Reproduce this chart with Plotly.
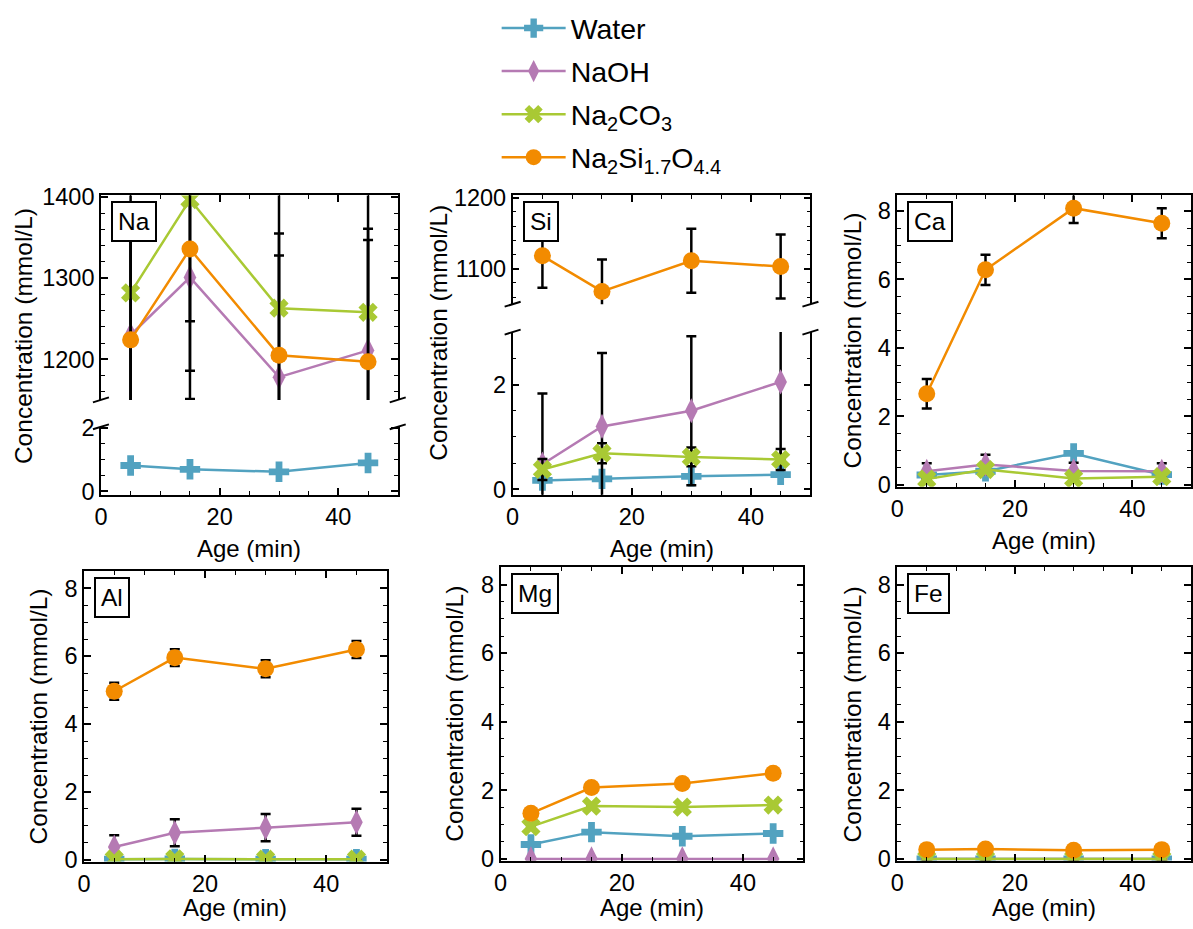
import plotly.graph_objects as go

W, H = 1193, 929
# measured mapping of page pixels to the captured picture: img = A + S * page
AX, SX = 6.0, 0.994
AY, SY = 8.0, 0.978

TIMES = [5, 15, 30, 45]
SERIES = ["Water", "NaOH", "Na<sub>2</sub>CO<sub>3</sub>", "Na<sub>2</sub>Si<sub>1.7</sub>O<sub>4.4</sub>"]
COLORS = ["#52a2c0", "#b57ab3", "#a9c934", "#f28b00"]
SYMBOLS = ["cross", "diamond-tall", "x", "circle"]

NA_VALUES = [[0.82, 0.70, 0.62, 0.90], [1230, 1301, 1178, 1211], [1282, 1397, 1263, 1258], [1224, 1336, 1205, 1197]]
NA_ERRORS = [[0.03, 0.03, 0.03, 0.03], [150, 150, 150, 150], [150, 150, 150, 150], [150, 150, 150, 150]]
SI_VALUES = [[0.17, 0.20, 0.25, 0.28], [0.48, 1.20, 1.50, 2.05], [0.38, 0.69, 0.62, 0.57], [1118, 1068, 1111, 1103]]
SI_ERRORS = [[0.03, 0.03, 0.03, 0.03], [1.35, 1.40, 1.42, 1.50], [0.20, 0.19, 0.18, 0.20], [45, 45, 45, 45]]
CA_VALUES = [[0.29, 0.40, 0.92, 0.30], [0.40, 0.60, 0.41, 0.40], [0.17, 0.45, 0.19, 0.24], [2.66, 6.28, 8.08, 7.64]]
CA_ERRORS = [[0.04, 0.04, 0.04, 0.04], [0.23, 0.28, 0.24, 0.23], [0.03, 0.03, 0.03, 0.03], [0.43, 0.44, 0.43, 0.44]]
AL_VALUES = [[0.02, 0.03, 0.02, 0.02], [0.38, 0.80, 0.95, 1.11], [0.02, 0.03, 0.02, 0.02], [4.97, 5.96, 5.63, 6.20]]
AL_ERRORS = [[0.01, 0.01, 0.01, 0.01], [0.35, 0.40, 0.40, 0.40], [0.01, 0.01, 0.01, 0.01], [0.25, 0.25, 0.25, 0.25]]
MG_VALUES = [[0.42, 0.78, 0.66, 0.74], [0.0, 0.0, 0.0, 0.0], [0.94, 1.54, 1.51, 1.57], [1.33, 2.08, 2.20, 2.50]]
MG_ERRORS = [[0.03, 0.03, 0.03, 0.03], [0.01, 0.01, 0.01, 0.01], [0.03, 0.03, 0.03, 0.03], [0.04, 0.04, 0.04, 0.04]]
FE_VALUES = [[0.0, 0.0, 0.0, 0.0], [0.0, 0.0, 0.0, 0.0], [0.0, 0.0, 0.0, 0.0], [0.27, 0.29, 0.25, 0.27]]
FE_ERRORS = [[0.01, 0.01, 0.01, 0.01], [0.01, 0.01, 0.01, 0.01], [0.01, 0.01, 0.01, 0.01], [0.02, 0.02, 0.02, 0.02]]

X_RANGE = [0, 50]

FONT = "Liberation Sans, Arial, sans-serif"
TICKFONT = dict(family=FONT, size=23.5, color="black")


def px_x(p):
    return min(max((p - AX) / SX / W, 0.0), 1.0)


def px_y(p):
    return 1 - (p - AY) / SY / H


panels = [
    ("Na", NA_VALUES, NA_ERRORS, (-78, -9), 547, [
        ("x", "y", (100, 397), (193, 398), [1150, 1402], 100, 20, "upper"),
        ("x2", "y2", (100, 397), (425, 493), [-0.1, 2.04], 2, 0.5, "lower"),
    ]),
    ("Si", SI_VALUES, SI_ERRORS, (-75, -12), 547, [
        ("x3", "y3", (512, 810), (193, 302), [1050, 1203], 100, 20, "upper"),
        ("x4", "y4", (512, 810), (330, 493), [-0.1, 3.0], 2, 0.5, "lower"),
    ]),
    ("Ca", CA_VALUES, CA_ERRORS, (-45, -1), 539, [
        ("x5", "y5", (897, 1191), (193, 485), [-0.05, 8.45], 2, 0.5, "full"),
    ]),
    ("Al", AL_VALUES, AL_ERRORS, (-45, 0), 907, [
        ("x6", "y6", (83, 386), (570, 861), [-0.05, 8.5], 2, 0.5, "full"),
    ]),
    ("Mg", MG_VALUES, MG_ERRORS, (-47, 0), 907, [
        ("x7", "y7", (500, 803), (566, 860), [-0.05, 8.5], 2, 0.5, "full"),
    ]),
    ("Fe", FE_VALUES, FE_ERRORS, (-45, 0), 907, [
        ("x8", "y8", (897, 1191), (566, 860), [-0.05, 8.5], 2, 0.5, "full"),
    ]),
]

fig = go.Figure()
layout = {}
annotations = []
shapes = []
first_legend = True

for name, vals, errs, yt_off, xt_y, axes in panels:
    for (xid, yid, xd, yd, yr, dt, mn, part) in axes:
        for i in range(4):
            fig.add_trace(go.Scatter(
                x=TIMES, y=vals[i], xaxis=xid, yaxis=yid,
                name=SERIES[i], legendgroup=SERIES[i],
                showlegend=first_legend,
                mode="lines+markers",
                line=dict(color=COLORS[i], width=2.5),
                marker=dict(color=COLORS[i], symbol=SYMBOLS[i], size=17 if SYMBOLS[i] != "diamond-tall" else 18,
                            line=dict(width=0)),
                error_y=dict(type="data", array=errs[i], visible=True, color="black",
                             thickness=2.5, width=5),
            ))
        first_legend = False
        xkey = "xaxis" + xid[1:]
        ykey = "yaxis" + yid[1:]
        xax = dict(domain=[px_x(xd[0]), px_x(xd[1])], range=X_RANGE, anchor=yid,
                   showline=True, linecolor="black", linewidth=1.5,
                   ticks="inside", ticklen=7, tickwidth=1.5, tickcolor="black",
                   dtick=20, tick0=0, showgrid=False, zeroline=False,
                   tickfont=TICKFONT,
                   minor=dict(ticks="inside", dtick=5, ticklen=4, tickwidth=1.2, tickcolor="black", showgrid=False))
        if part == "upper":
            xax.update(side="top", showticklabels=False, mirror=False)
        elif part == "lower":
            xax.update(side="bottom", mirror=False)
        else:
            xax.update(mirror="allticks")
        yax = dict(domain=[px_y(yd[1]), px_y(yd[0])], range=yr, anchor=xid,
                   showline=True, linecolor="black", linewidth=1.5, mirror="allticks",
                   ticks="inside", ticklen=7, tickwidth=1.5, tickcolor="black",
                   dtick=dt, tick0=0, showgrid=False, zeroline=False,
                   tickfont=TICKFONT,
                   minor=dict(ticks="inside", dtick=mn, ticklen=4, tickwidth=1.2, tickcolor="black", showgrid=False))
        layout[xkey] = xax
        layout[ykey] = yax

        if part in ("upper", "lower"):
            yb = yd[1] if part == "upper" else yd[0]
            for xe in xd:
                shapes.append(dict(type="line", xref="paper", yref="paper",
                                   x0=px_x(xe - 8), x1=px_x(xe + 8),
                                   y0=px_y(yb + 2.5), y1=px_y(yb - 2.5),
                                   line=dict(color="black", width=2)))

    xd = axes[0][2]
    ytop = axes[0][3][0]
    ybot = axes[-1][3][1]
    annotations.append(dict(text=name, xref="paper", yref="paper",
                            x=px_x(xd[0] + 10), y=px_y(ytop + 6), xanchor="left", yanchor="top",
                            showarrow=False, font=dict(family=FONT, size=24.5, color="black"),
                            bgcolor="white", bordercolor="black", borderwidth=2, borderpad=5))
    annotations.append(dict(text="Concentration (mmol/L)", xref="paper", yref="paper",
                            x=px_x(xd[0] + yt_off[0]), y=px_y((ytop + ybot) / 2 + yt_off[1]),
                            xanchor="center", yanchor="middle",
                            textangle=-90, showarrow=False, font=dict(family=FONT, size=24.5, color="black")))
    annotations.append(dict(text="Age (min)", xref="paper", yref="paper",
                            x=px_x((xd[0] + xd[1]) / 2), y=px_y(xt_y), xanchor="center", yanchor="middle",
                            showarrow=False, font=dict(family=FONT, size=24, color="black")))

fig.update_layout(**layout)
fig.update_layout(
    width=W, height=H,
    margin=dict(l=0, r=0, t=0, b=0),
    paper_bgcolor="white", plot_bgcolor="white",
    font=dict(family=FONT, size=23.5, color="black"),
    annotations=annotations, shapes=shapes,
    legend=dict(x=px_x(496), y=px_y(0), xanchor="left", yanchor="top",
                font=dict(family=FONT, size=28.5, color="black"),
                bgcolor="rgba(0,0,0,0)", tracegroupgap=3, itemwidth=64),
)

fig.write_html("out.html", config={"displayModeBar": False},
               post_script="document.body.style.margin='0px';document.body.style.overflow='hidden';")
